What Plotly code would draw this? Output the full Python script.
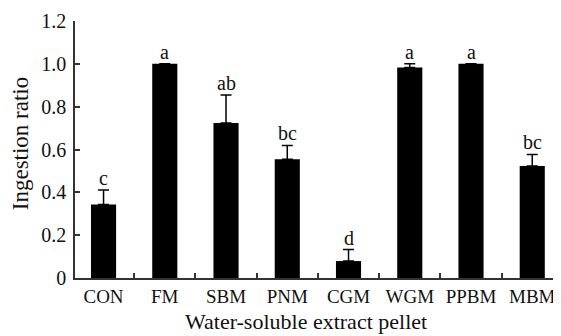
import plotly.graph_objects as go

categories = ["CON", "FM", "SBM", "PNM", "CGM", "WGM", "PPBM", "MBM"]
values = [0.343, 1.0, 0.724, 0.555, 0.079, 0.983, 1.0, 0.523]
errors = [0.068, 0.0, 0.131, 0.064, 0.054, 0.017, 0.0, 0.054]
letters = ["c", "a", "ab", "bc", "d", "a", "a", "bc"]
y_ticks = [0, 0.2, 0.4, 0.6, 0.8, 1.0, 1.2]
y_tick_labels = ["0", "0.2", "0.4", "0.6", "0.8", "1.0", "1.2"]
x_title = "Water-soluble extract pellet"
y_title = "Ingestion ratio"

FONT = "Liberation Serif"

fig = go.Figure()
fig.add_trace(go.Bar(
    x=categories, y=values, width=0.41,
    marker=dict(color="black", line=dict(width=0)),
    error_y=dict(type="data", array=errors, symmetric=False, arrayminus=[0]*len(errors),
                 visible=True, color="black", thickness=1.5, width=5.5),
))

for c, v, e, l in zip(categories, values, errors, letters):
    fig.add_annotation(x=c, y=v + e, text=l, showarrow=False, yanchor="bottom",
                       yshift=-1, font=dict(family=FONT, size=20, color="#111"))

# axis titles as annotations for exact placement
fig.add_annotation(text=x_title, xref="paper", yref="paper", x=0.4666, y=-0.226,
                   xanchor="center", yanchor="bottom", showarrow=False,
                   font=dict(family=FONT, size=22, color="#111"))
fig.add_annotation(text=y_title, xref="paper", yref="paper", x=-0.111, y=0.525,
                   xanchor="center", yanchor="middle", textangle=-90, showarrow=False,
                   font=dict(family=FONT, size=23, color="#111"))

# The page body has an 8px margin, so margins are offset to place the axes where the reference has them.
fig.update_layout(
    width=561, height=336,
    margin=dict(l=67, r=0, t=13, b=66, autoexpand=False),
    paper_bgcolor="white", plot_bgcolor="white",
    showlegend=False,
    font=dict(family=FONT, size=20, color="#111"),
    xaxis=dict(
        type="category", range=[-0.466, 7.6], automargin=False,
        showline=True, linecolor="#333", linewidth=1.5,
        ticks="inside", ticklen=5, tickwidth=1.5, tickcolor="#333",
        tickson="boundaries", tickangle=0,
        tickfont=dict(family=FONT, size=19, color="#111"),
        showgrid=False, zeroline=False,
    ),
    yaxis=dict(
        range=[0, 1.2], automargin=False,
        tickvals=y_ticks, ticktext=y_tick_labels,
        showline=True, linecolor="#333", linewidth=1.5,
        ticks="inside", ticklen=5, tickwidth=1.5, tickcolor="#333",
        ticklabelstandoff=3,
        tickfont=dict(family=FONT, size=20, color="#111"),
        showgrid=False, zeroline=False,
    ),
)

fig.write_html("out.html")
